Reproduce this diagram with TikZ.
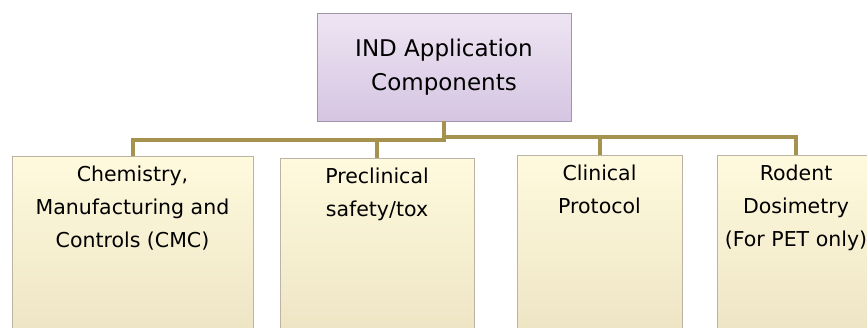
\documentclass[tikz,border=0pt]{standalone}
\usepackage{fontspec}
\setmainfont{DejaVu Sans}
\definecolor{connol}{RGB}{164,146,78}
\definecolor{indtop}{RGB}{238,229,243}
\definecolor{indbot}{RGB}{214,197,226}
\definecolor{indborder}{RGB}{160,150,170}
\definecolor{ctop}{RGB}{255,250,222}
\definecolor{cmid}{RGB}{254,236,168}
\definecolor{cbot}{RGB}{232,222,188}
\definecolor{cborder}{RGB}{185,180,165}
\begin{document}
\begin{tikzpicture}[x=1pt,y=1pt,
  rootbox/.style={draw=indborder, line width=0.8pt, top color=indtop, bottom color=indbot,
    minimum width=254pt, minimum height=108pt, inner sep=0pt, outer sep=0pt,
    align=center, font=\fontsize{23}{34}\selectfont},
  childbox/.style={draw=cborder, line width=0.8pt, top color=ctop, middle color=cmid, bottom color=cbot,
    anchor=north west, inner sep=0pt, outer sep=0pt},
  conn/.style={draw=connol, line width=4pt, line join=miter}
]
\clip (0,0) rectangle (867,-327);
\fill[white] (0,0) rectangle (867,-327);

\node[rootbox] (ind) at (444,-67) {IND Application\\Components};

\newcommand{\childtext}[3]{\parbox[c][#1][t]{#2}{\centering\fontsize{20.5}{33}\selectfont\rule{0pt}{25.5pt}#3}}

\node[childbox] (cmc) at (12,-156) {\childtext{230pt}{241pt}{Chemistry,\\Manufacturing and\\Controls (CMC)}};
\node[childbox] (pre) at (280,-158) {\childtext{228pt}{194pt}{Preclinical\\safety/tox}};
\node[childbox] (cli) at (517,-155) {\childtext{231pt}{165pt}{Clinical\\Protocol}};
\node[childbox] (rod) at (717,-155) {\childtext{231pt}{158pt}{Rodent\\Dosimetry\\(For PET only)}};

\draw[conn] (ind.south) -- ++(0,-19) -| (cmc.north);
\draw[conn] (ind.south) -- ++(0,-19) -| (pre.north);
\draw[conn] (ind.south) -- ++(0,-16) -| (cli.north);
\draw[conn] (ind.south) -- ++(0,-16) -| (rod.north);
\end{tikzpicture}
\end{document}
